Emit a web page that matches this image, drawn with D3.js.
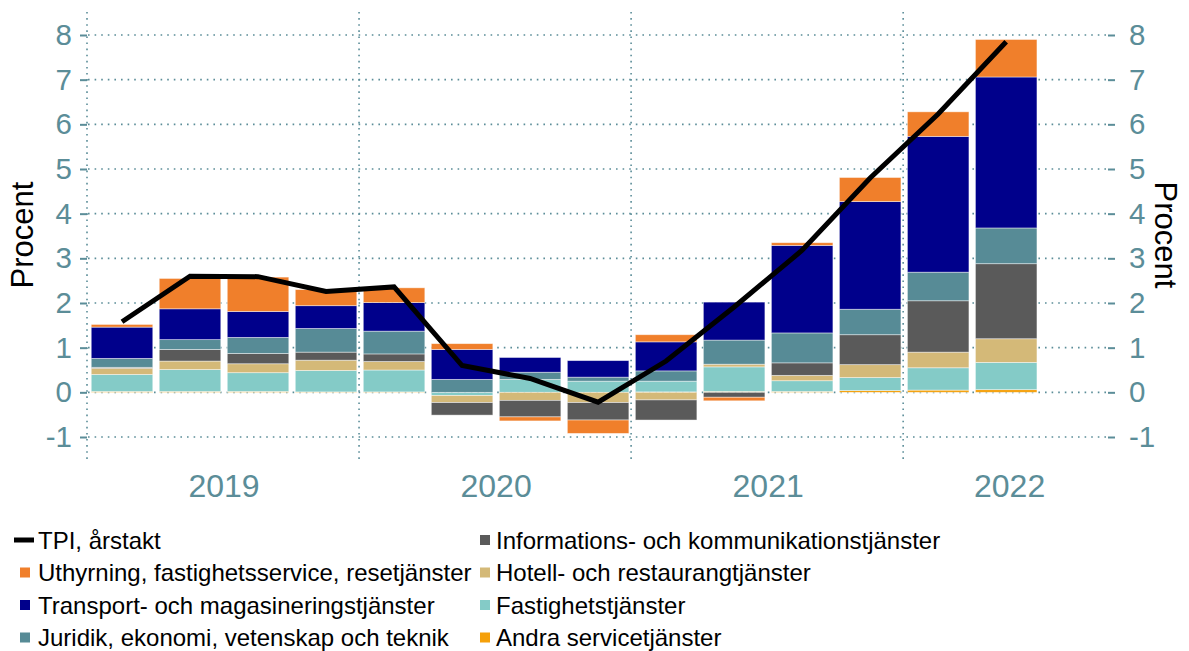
<!DOCTYPE html>
<html><head><meta charset="utf-8">
<script src="https://cdn.jsdelivr.net/npm/d3@7"></script>
<style>body{margin:0;background:#fff;} svg{display:block;font-family:"Liberation Sans",Arial,sans-serif;}</style>
</head><body><svg id="c" width="1189" height="651"></svg>
<script>
const quarters = ["2019K1","2019K2","2019K3","2019K4","2020K1","2020K2","2020K3","2020K4","2021K1","2021K2","2021K3","2021K4","2022K1","2022K2"];
const years = ["2019","2020","2021","2022"];
const yTicks = [-1,0,1,2,3,4,5,6,7,8];

const andra  = [0.02,0.02,0.02,0.01,0.01,0.00,0.00,0.00,0.01,0.02,0.02,0.04,0.05,0.06];
const fast   = [0.38,0.49,0.42,0.48,0.49,-0.07,0.29,0.25,0.24,0.55,0.24,0.29,0.50,0.61];
const hotell = [0.14,0.19,0.20,0.23,0.19,-0.16,-0.18,-0.23,-0.17,0.06,0.12,0.29,0.35,0.53];
const info   = [0.02,0.26,0.23,0.18,0.17,-0.28,-0.37,-0.39,-0.45,-0.11,0.28,0.67,1.15,1.68];
const jur    = [0.20,0.22,0.36,0.53,0.51,0.29,0.16,0.09,0.23,0.54,0.67,0.57,0.64,0.80];
const transp = [0.70,0.69,0.58,0.51,0.64,0.67,0.33,0.37,0.65,0.85,1.96,2.41,3.04,3.38];
const uthyr  = [0.06,0.68,0.77,0.36,0.33,0.13,-0.09,-0.30,0.16,-0.08,0.06,0.54,0.55,0.84];
const tpi    = [1.58,2.60,2.59,2.26,2.36,0.60,0.31,-0.22,0.70,1.91,3.18,4.80,6.23,7.85];

const seriesNames = {
  andra:"Andra servicetjänster", fast:"Fastighetstjänster", hotell:"Hotell- och restaurangtjänster",
  info:"Informations- och kommunikationstjänster", jur:"Juridik, ekonomi, vetenskap och teknik",
  transp:"Transport- och magasineringstjänster", uthyr:"Uthyrning, fastighetsservice, resetjänster"
};
const colors = {andra:"#f5a00a", fast:"#84cbc7", hotell:"#d4b978", info:"#5a5a5a", jur:"#578b96", transp:"#00008b", uthyr:"#f07f2b"};
const keys = ["andra","fast","hotell","info","jur","transp","uthyr"];
const vals = {andra, fast, hotell, info, jur, transp, uthyr};
const table = quarters.map((q,i)=>{const o={q, i}; keys.forEach(k=>o[k]=vals[k][i]); return o;});

const svg = d3.select("#c");
const L=88, R=1115, T=12, B=463;
const axisCol = "#5b8d98";
const x = d3.scaleLinear().domain([0, 15.1]).range([L, R]);
const y = d3.scaleLinear().domain([-1, 8]).range([437, 35]);
const bw = (x(1)-x(0))*0.905;

// horizontal grid
svg.append("g").selectAll("line").data(yTicks).join("line")
  .attr("x1", L).attr("x2", R-6).attr("y1", d=>y(d)).attr("y2", d=>y(d))
  .attr("stroke", axisCol).attr("stroke-width", 1.6).attr("stroke-dasharray","1.6,5");
// vertical grid at year boundaries
const yearStarts = [0,4,8,12];
svg.append("g").selectAll("line").data(yearStarts).join("line")
  .attr("x1", d=>x(d)-1).attr("x2", d=>x(d)-1).attr("y1", T).attr("y2", B)
  .attr("stroke", axisCol).attr("stroke-width", 1.6).attr("stroke-dasharray","1.6,4.5");

// axes
const fmt = d=>String(d);
const yl = d3.axisLeft(y).tickValues(yTicks).tickSize(7).tickPadding(8).tickFormat(fmt);
const gl = svg.append("g").attr("transform",`translate(${L-1},0)`).call(yl);
const yr = d3.axisRight(y).tickValues(yTicks).tickSize(7).tickPadding(14).tickFormat(fmt);
const gr = svg.append("g").attr("transform",`translate(${R-7},0)`).call(yr);
[gl,gr].forEach(g=>{
  g.select(".domain").remove();
  g.selectAll(".tick line").attr("stroke", axisCol).attr("stroke-width",2);
  g.selectAll(".tick text").attr("fill", axisCol).attr("font-size", 29.5).attr("font-family","'Liberation Sans',Arial,sans-serif");
});

// year labels
const yearCenters = [2, 6, 10, (12+15.1)/2];
svg.append("g").selectAll("text").data(years).join("text")
  .attr("x",(d,i)=>x(yearCenters[i])).attr("y", 497)
  .attr("text-anchor","middle").attr("fill", axisCol).attr("font-size", 32).text(d=>d);

// axis titles
svg.append("text").attr("transform","translate(33,235) rotate(-90)").attr("text-anchor","middle")
  .attr("font-size",31).attr("fill","#000").text("Procent");
svg.append("text").attr("transform","translate(1155,235) rotate(90)").attr("text-anchor","middle")
  .attr("font-size",31).attr("fill","#000").text("Procent");

// stacked bars
const stack = d3.stack().keys(keys).offset(d3.stackOffsetDiverging);
const stacked = stack(table);
svg.append("g").selectAll("g").data(stacked).join("g")
  .attr("fill", d=>colors[d.key])
  .selectAll("rect").data(d=>d).join("rect")
  .attr("x", d=>x(d.data.i+0.5)-bw/2).attr("width", bw)
  .attr("y", d=>y(Math.max(d[0],d[1]))).attr("height", d=>Math.abs(y(d[0])-y(d[1])))
  .attr("stroke","rgba(255,255,255,0.55)").attr("stroke-width",0.8);

// TPI line
svg.append("path").datum(tpi)
  .attr("d", d3.line().x((d,i)=>x(i+0.5)).y(d=>y(d)))
  .attr("fill","none").attr("stroke","#000").attr("stroke-width",5).attr("stroke-linejoin","miter");

// legend
const legend = [
  {t:"line", name:"TPI, årstakt", col:0, row:0},
  {k:"info", col:1, row:0},
  {k:"uthyr", col:0, row:1},
  {k:"hotell", col:1, row:1},
  {k:"transp", col:0, row:2},
  {k:"fast", col:1, row:2},
  {k:"jur", col:0, row:3},
  {k:"andra", col:1, row:3}
];
const lg = svg.append("g");
legend.forEach(e=>{
  const bx = e.col===0 ? 14 : 480;
  const cy = 540 + e.row*32.5;
  if (e.t==="line") {
    lg.append("line").attr("x1",bx).attr("x2",bx+20).attr("y1",cy).attr("y2",cy).attr("stroke","#000").attr("stroke-width",5);
  } else {
    lg.append("rect").attr("x",bx+(e.col===0?6:0)).attr("y",cy-5).attr("width",10).attr("height",10).attr("fill",colors[e.k]);
  }
  lg.append("text").attr("x", e.col===0 ? 38 : 496).attr("y", cy+8.5)
    .attr("font-size",24).attr("fill","#000").text(e.t==="line"?e.name:seriesNames[e.k]);
});
</script></body></html>
